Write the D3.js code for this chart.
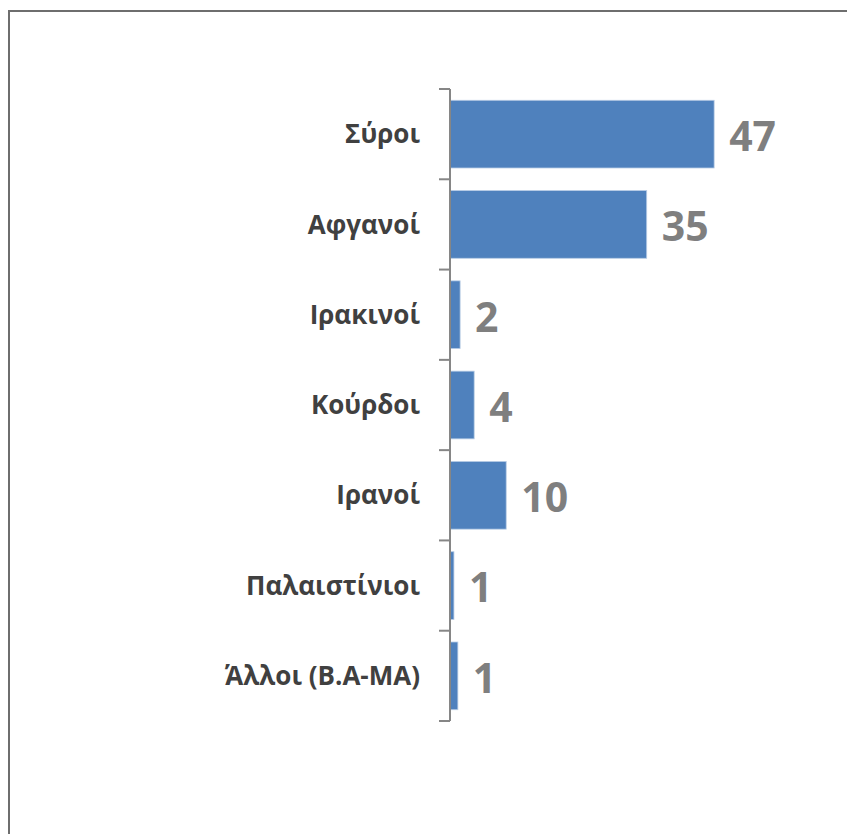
<!DOCTYPE html>
<html>
<head>
<meta charset="utf-8">
<script src="https://cdn.jsdelivr.net/npm/d3@7"></script>
<style>
  html, body { margin: 0; padding: 0; background: #fff; }
  svg { display: block; }
</style>
</head>
<body>
<script>
// Data
const categories = ["Σύροι", "Αφγανοί", "Ιρακινοί", "Κούρδοι", "Ιρανοί", "Παλαιστίνιοι", "Άλλοι (Β.Α-ΜΑ)"];
const values = [47, 35, 1.8, 4.3, 10, 0.7, 1.4];

const W = 847, H = 834;
const svg = d3.select("body").append("svg").attr("width", W).attr("height", H);

// Outer frame (right & bottom edges fall outside the picture)
svg.append("rect")
  .attr("x", 9).attr("y", 11)
  .attr("width", 1000).attr("height", 1000)
  .attr("fill", "#fff")
  .attr("stroke", "#6e6e6e").attr("stroke-width", 2);

const x0 = 450;
const x = d3.scaleLinear().domain([0, 50]).range([x0, x0 + 281]);
const y = d3.scaleBand().domain(categories).range([89, 721])
  .paddingInner(0.25).paddingOuter(0.125);

const data = categories.map((c, i) => ({ c, v: values[i] }));

// Bars
svg.append("g").selectAll("rect").data(data).join("rect")
  .attr("x", x(0))
  .attr("y", d => y(d.c))
  .attr("width", d => x(d.v) - x(0))
  .attr("height", y.bandwidth())
  .attr("fill", "#4f81bd")
  .attr("stroke", "#b9cde5").attr("stroke-width", 0.8);

// Axis
const axis = d3.axisLeft(y).tickSize(0).tickPadding(30).tickFormat(d => d);
const gAxis = svg.append("g").attr("transform", `translate(${x0},0)`).call(axis);
gAxis.select(".domain").remove();
gAxis.selectAll("text")
  .attr("dy", "0.35em")
  .attr("font-family", "'Open Sans', sans-serif")
  .attr("font-weight", "bold")
  .attr("font-size", 26)
  .attr("fill", "#404040");

// Axis line and ticks between categories
const step = y.step();
const tickYs = d3.range(categories.length + 1).map(i => 89 + i * step);
svg.append("line")
  .attr("x1", x0).attr("x2", x0)
  .attr("y1", 89).attr("y2", 721)
  .attr("stroke", "#868686").attr("stroke-width", 2);
svg.append("g").selectAll("line").data(tickYs).join("line")
  .attr("x1", x0 - 11).attr("x2", x0)
  .attr("y1", d => d).attr("y2", d => d)
  .attr("stroke", "#868686").attr("stroke-width", 2);

// Value labels
const fmt = d3.format(".0f");
svg.append("g").selectAll("text").data(data).join("text")
  .attr("x", d => x(d.v) + 15)
  .attr("y", d => y(d.c) + y.bandwidth() / 2)
  .attr("dy", "0.41em")
  .attr("font-family", "'Open Sans', sans-serif")
  .attr("font-weight", "bold")
  .attr("font-size", 41)
  .attr("fill", "#7f7f7f")
  .text(d => fmt(d.v));
</script>
</body>
</html>
